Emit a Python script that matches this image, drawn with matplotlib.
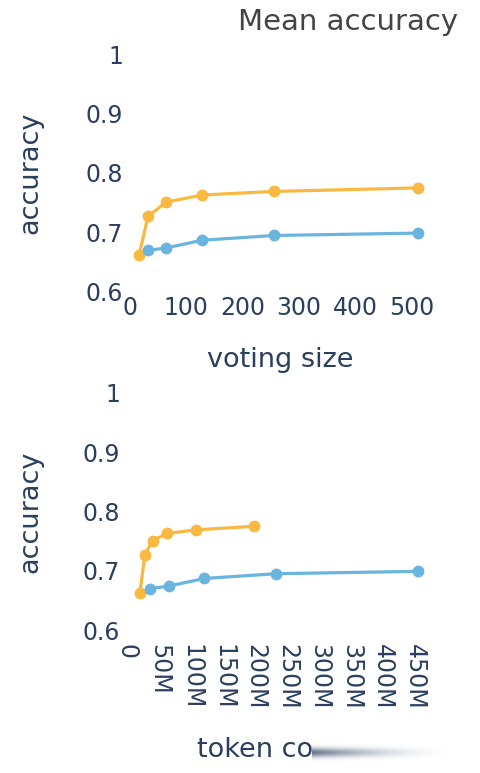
import matplotlib.pyplot as plt
import numpy as np

# Data
voting_orange = [16, 32, 64, 128, 256, 512]
acc_orange = [0.662, 0.727, 0.751, 0.763, 0.769, 0.775]
voting_blue = [32, 64, 128, 256, 512]
acc_blue = [0.670, 0.674, 0.687, 0.695, 0.699]

tokens_orange = [20e6, 28e6, 40e6, 63e6, 108e6, 198e6]
tokens_blue = [36e6, 65e6, 121e6, 233e6, 455e6]

orange = "#F9B840"
blue = "#6AB4E0"
axis_col = "#2a3f5f"
plt.rcParams['font.family'] = ['DejaVu Sans']

W, H = 481, 773
fig = plt.figure(figsize=(W / 100, H / 100), dpi=100)


def axes_px(left, top, right, bottom):
    return fig.add_axes([left / W, 1 - bottom / H, (right - left) / W, (bottom - top) / H])


ax1 = axes_px(130, 54, 431, 292)
ax2 = axes_px(127, 393, 431, 630)

for ax, left in ((ax1, 130), (ax2, 127)):
    for s in ax.spines.values():
        s.set_visible(False)
    ax.set_ylim(0.6, 1.0)
    ax.set_yticks([0.6, 0.7, 0.8, 0.9, 1.0])
    ax.set_yticklabels(["0.6", "0.7", "0.8", "0.9", "1"])
    ax.tick_params(length=0, labelsize=17, labelcolor=axis_col, pad=5)
    ax.set_ylabel("accuracy", fontsize=19.5, color=axis_col)
    ax.yaxis.set_label_coords((43 - left) / (431 - left), 0.5)

# Top panel
ax1.plot(voting_orange, acc_orange, "-o", color=orange, lw=2.3, ms=7.5, clip_on=False)
ax1.plot(voting_blue, acc_blue, "-o", color=blue, lw=2.3, ms=7.5, clip_on=False)
ax1.set_xlim(0, 535)
ax1.set_xticks([0, 100, 200, 300, 400, 500])
ax1.tick_params(axis="x", pad=3)
ax1.set_xlabel("voting size", fontsize=19.5, color=axis_col)
ax1.xaxis.set_label_coords(0.5, (292 - 360) / 238)
ax1.xaxis.label.set_va("center")

# Bottom panel
ax2.plot(tokens_orange, acc_orange, "-o", color=orange, lw=2.3, ms=7.5, clip_on=False)
ax2.plot(tokens_blue, acc_blue, "-o", color=blue, lw=2.3, ms=7.5, clip_on=False)
ax2.set_xlim(0, 475e6)
xt = np.arange(0, 451e6, 50e6)
ax2.set_xticks(xt)
ax2.set_xticklabels(["0"] + [f"{int(v / 1e6)}M" for v in xt[1:]], rotation=-90, va="top")
ax2.tick_params(axis="x", pad=10)

fig.text(197 / W, 1 - 750 / H, "token count", fontsize=19.5, color=axis_col,
         ha="left", va="center")

fig.text(458 / W, 1 - 22 / H, "Mean accuracy", fontsize=21, color="#444444",
         ha="right", va="center")

# smeared fade over the end of the bottom label
fax = fig.add_axes([312 / W, 0, 169 / W, 1 - 728 / H])
fax.set_zorder(10)
fax.axis("off")
fax.add_patch(plt.Rectangle((0, 728), 169, 45, color="white", zorder=1))
xs = np.linspace(0, 1, 169)
ys = np.arange(728, 773)
prof = np.exp(-((ys - 752) / 4.5) ** 2)
fade_x = np.clip(1 - xs / 0.85, 0, 1) ** 1.8
smear = np.zeros((len(ys), len(xs), 4))
smear[..., :3] = np.array([0x2a, 0x3f, 0x5f]) / 255
smear[..., 3] = 0.7 * prof[:, None] * fade_x[None, :]
fax.imshow(smear, aspect="auto", extent=[0, 169, 773, 728], interpolation="bilinear", zorder=2)
fax.set_xlim(0, 169)
fax.set_ylim(773, 728)

fig.savefig("out.png", dpi=100)
